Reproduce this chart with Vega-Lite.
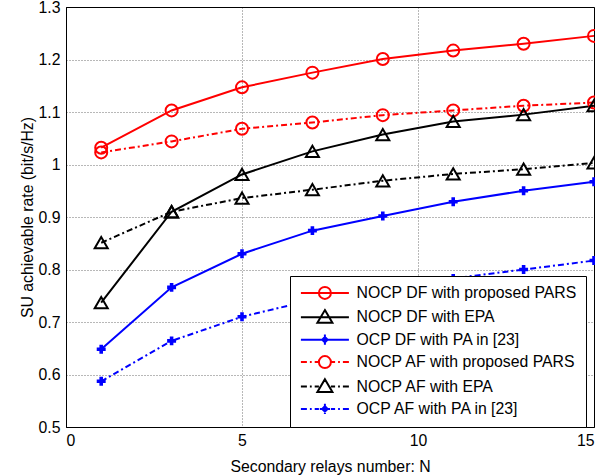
{
  "$schema": "https://vega.github.io/schema/vega-lite/v6.json",
  "width": 528,
  "height": 420,
  "autosize": "none",
  "padding": {"left": 66, "top": 7, "right": 1, "bottom": 48},
  "background": "white",
  "config": {
    "font": "Liberation Sans",
    "view": {"stroke": "#000", "strokeWidth": 1},
    "axis": {
      "labelFont": "Liberation Sans", "labelFontSize": 15.8, "labelColor": "#000",
      "titleFont": "Liberation Sans", "titleFontSize": 15.8, "titleColor": "#000", "titleFontWeight": "normal",
      "domainColor": "#000", "ticks": false,
      "grid": true, "gridColor": "#000", "gridDash": [1, 2], "gridWidth": 0.8, "gridOpacity": 0.7
    }
  },
  "data": {
    "values": [
      {"series": "NOCP DF with proposed PARS", "n": 1, "rate": 1.032},
      {"series": "NOCP DF with proposed PARS", "n": 3, "rate": 1.103},
      {"series": "NOCP DF with proposed PARS", "n": 5, "rate": 1.147},
      {"series": "NOCP DF with proposed PARS", "n": 7, "rate": 1.175},
      {"series": "NOCP DF with proposed PARS", "n": 9, "rate": 1.201},
      {"series": "NOCP DF with proposed PARS", "n": 11, "rate": 1.217},
      {"series": "NOCP DF with proposed PARS", "n": 13, "rate": 1.230},
      {"series": "NOCP DF with proposed PARS", "n": 15, "rate": 1.245},
      {"series": "NOCP DF with EPA", "n": 1, "rate": 0.737},
      {"series": "NOCP DF with EPA", "n": 3, "rate": 0.910},
      {"series": "NOCP DF with EPA", "n": 5, "rate": 0.981},
      {"series": "NOCP DF with EPA", "n": 7, "rate": 1.025},
      {"series": "NOCP DF with EPA", "n": 9, "rate": 1.057},
      {"series": "NOCP DF with EPA", "n": 11, "rate": 1.082},
      {"series": "NOCP DF with EPA", "n": 13, "rate": 1.095},
      {"series": "NOCP DF with EPA", "n": 15, "rate": 1.112},
      {"series": "OCP DF with PA in [23]", "n": 1, "rate": 0.648},
      {"series": "OCP DF with PA in [23]", "n": 3, "rate": 0.766},
      {"series": "OCP DF with PA in [23]", "n": 5, "rate": 0.830},
      {"series": "OCP DF with PA in [23]", "n": 7, "rate": 0.874},
      {"series": "OCP DF with PA in [23]", "n": 9, "rate": 0.902},
      {"series": "OCP DF with PA in [23]", "n": 11, "rate": 0.929},
      {"series": "OCP DF with PA in [23]", "n": 13, "rate": 0.950},
      {"series": "OCP DF with PA in [23]", "n": 15, "rate": 0.967},
      {"series": "NOCP AF with proposed PARS", "n": 1, "rate": 1.023},
      {"series": "NOCP AF with proposed PARS", "n": 3, "rate": 1.044},
      {"series": "NOCP AF with proposed PARS", "n": 5, "rate": 1.068},
      {"series": "NOCP AF with proposed PARS", "n": 7, "rate": 1.080},
      {"series": "NOCP AF with proposed PARS", "n": 9, "rate": 1.094},
      {"series": "NOCP AF with proposed PARS", "n": 11, "rate": 1.103},
      {"series": "NOCP AF with proposed PARS", "n": 13, "rate": 1.112},
      {"series": "NOCP AF with proposed PARS", "n": 15, "rate": 1.118},
      {"series": "NOCP AF with EPA", "n": 1, "rate": 0.851},
      {"series": "NOCP AF with EPA", "n": 3, "rate": 0.910},
      {"series": "NOCP AF with EPA", "n": 5, "rate": 0.936},
      {"series": "NOCP AF with EPA", "n": 7, "rate": 0.952},
      {"series": "NOCP AF with EPA", "n": 9, "rate": 0.969},
      {"series": "NOCP AF with EPA", "n": 11, "rate": 0.982},
      {"series": "NOCP AF with EPA", "n": 13, "rate": 0.991},
      {"series": "NOCP AF with EPA", "n": 15, "rate": 1.003},
      {"series": "OCP AF with PA in [23]", "n": 1, "rate": 0.587},
      {"series": "OCP AF with PA in [23]", "n": 3, "rate": 0.664},
      {"series": "OCP AF with PA in [23]", "n": 5, "rate": 0.710},
      {"series": "OCP AF with PA in [23]", "n": 7, "rate": 0.742},
      {"series": "OCP AF with PA in [23]", "n": 9, "rate": 0.763},
      {"series": "OCP AF with PA in [23]", "n": 11, "rate": 0.783},
      {"series": "OCP AF with PA in [23]", "n": 13, "rate": 0.800},
      {"series": "OCP AF with PA in [23]", "n": 15, "rate": 0.817}
    ]
  },
  "encoding": {
    "x": {"field": "n", "type": "quantitative", "title": "Secondary relays number: N",
      "scale": {"domain": [0, 15], "nice": false},
      "axis": {"values": [0, 5, 10, 15], "labelPadding": 6, "titlePadding": 12}},
    "y": {"field": "rate", "type": "quantitative", "title": "SU achievable rate (bit/s/Hz)",
      "scale": {"domain": [0.5, 1.3], "nice": false, "zero": false},
      "axis": {"values": [0.5, 0.6, 0.7, 0.8, 0.9, 1, 1.1, 1.2, 1.3], "format": "~g", "labelPadding": 6, "titlePadding": 3}}
  },
  "layer": [
    {
      "mark": {"type": "point", "filled": false, "opacity": 0, "size": 144},
      "encoding": {
        "color": {"field": "series", "type": "nominal",
          "scale": {"domain": ["NOCP DF with proposed PARS", "NOCP DF with EPA", "OCP DF with PA in [23]", "NOCP AF with proposed PARS", "NOCP AF with EPA", "OCP AF with PA in [23]"],
            "range": ["#ff0000", "#000000", "#0000ff", "#ff0000", "#000000", "#0000ff"]},
          "legend": {
            "title": null, "orient": "none", "legendX": 224, "legendY": 269,
            "labelFont": "Liberation Sans", "labelFontSize": 15.8, "labelColor": "#000", "labelLimit": 400,
            "labelOffset": 41.7, "rowPadding": 2.4, "padding": 9,
            "symbolSize": 144, "symbolStrokeWidth": 2, "symbolOpacity": 1, "symbolFillColor": "transparent",
            "fillColor": "white", "strokeColor": "#000",
            "encode": {
              "symbols": {"opacity": {"value": 1}, "fill": {"value": "transparent"}},
              "legend": {"strokeWidth": {"value": 1.5}}
            }
          }},
        "shape": {"field": "series", "type": "nominal",
          "scale": {"domain": ["NOCP DF with proposed PARS", "NOCP DF with EPA", "OCP DF with PA in [23]", "NOCP AF with proposed PARS", "NOCP AF with EPA", "OCP AF with PA in [23]"],
            "range": [
              "M-1,0L7,0M2,0A1,1,0,1,0,4,0A1,1,0,1,0,2,0",
              "M-1,0L7,0M3,-1.2L4.25,0.9L1.75,0.9Z",
              "M-1,0L7,0M3,-0.85L3,0.85M2.15,0L3.85,0M3,-0.45L3.45,0L3,0.45L2.55,0Z",
              "M-1,0L0,0M0.5,0L0.8,0M1.3,0L2,0M4,0L4.7,0M5.2,0L5.5,0M6,0L7,0M2,0A1,1,0,1,0,4,0A1,1,0,1,0,2,0",
              "M-1,0L0,0M0.5,0L0.8,0M1.3,0L2,0M4,0L4.7,0M5.2,0L5.5,0M6,0L7,0M3,-1.2L4.25,0.9L1.75,0.9Z",
              "M-1,0L0,0M0.5,0L0.8,0M1.3,0L2,0M4,0L4.7,0M5.2,0L5.5,0M6,0L7,0M3,-0.85L3,0.85M2.15,0L3.85,0M3,-0.45L3.45,0L3,0.45L2.55,0Z"
            ]},
          "legend": {"title": null}}
      }
    },
    {
      "transform": [{"filter": {"field": "series", "oneOf": ["NOCP DF with proposed PARS", "NOCP DF with EPA", "OCP DF with PA in [23]"]}}],
      "mark": {"type": "line", "strokeWidth": 2},
      "encoding": {"color": {"field": "series", "type": "nominal"}}
    },
    {
      "transform": [{"filter": {"field": "series", "oneOf": ["NOCP AF with proposed PARS", "NOCP AF with EPA", "OCP AF with PA in [23]"]}}],
      "mark": {"type": "line", "strokeWidth": 2, "strokeDash": [6, 3, 2, 3]},
      "encoding": {"color": {"field": "series", "type": "nominal"}}
    },
    {
      "transform": [{"filter": {"field": "series", "oneOf": ["NOCP DF with proposed PARS", "NOCP AF with proposed PARS"]}}],
      "mark": {"type": "point", "shape": "circle", "filled": false, "size": 144, "strokeWidth": 2, "opacity": 1, "color": "#ff0000"}
    },
    {
      "transform": [{"filter": {"field": "series", "oneOf": ["NOCP DF with EPA", "NOCP AF with EPA"]}}],
      "mark": {"type": "point", "shape": "triangle-up", "filled": false, "size": 170, "strokeWidth": 2, "opacity": 1, "color": "#000000"}
    },
    {
      "transform": [{"filter": {"field": "series", "oneOf": ["OCP DF with PA in [23]", "OCP AF with PA in [23]"]}}],
      "mark": {"type": "point", "shape": "cross", "filled": true, "size": 80, "opacity": 1, "color": "#0000ff"}
    }
  ]
}
